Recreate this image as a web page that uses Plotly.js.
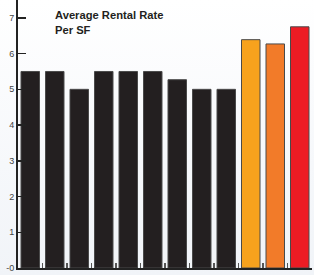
<!DOCTYPE html>
<html><head><meta charset="utf-8">
<script src="https://cdn.plot.ly/plotly-3.0.1.min.js"></script>
<style>
html,body{margin:0;padding:0;}
body{width:314px;height:275px;overflow:hidden;background:linear-gradient(to bottom,#ffffff 0%,#f6f8fb 60%,#f1f4f8 100%);}
#chart{width:314px;height:275px;}
</style></head>
<body><div id="chart"></div>
<script>
const categories = ["'00","'01","'02","'03","'04","'05","'06","'07","'08","'09","'10","'11"];
const rentalRate = [5.5, 5.5, 5.0, 5.5, 5.5, 5.5, 5.27, 5.0, 5.0, 6.39, 6.27, 6.75];
const barColors = ["#231f20","#231f20","#231f20","#231f20","#231f20","#231f20","#231f20","#231f20","#231f20","#f7a21d","#f27b29","#ed1c24"];
const yTickVals = [0,1,2,3,4,5,6,7];
const yTickText = ["-0","1","2","3","4","5","6","7"];
const chartTitle = "Average Rental Rate<br>Per SF";

Plotly.newPlot("chart", [{
  type: "bar",
  x: categories,
  y: rentalRate,
  marker: {color: barColors, line: {color: "#4a4a4a", width: 1}},
  hoverinfo: "none"
}], {
  width: 314, height: 275,
  margin: {l: 18, r: 2, t: 0, b: 7, pad: 0},
  paper_bgcolor: "rgba(0,0,0,0)",
  plot_bgcolor: "rgba(0,0,0,0)",
  bargap: 0.245,
  showlegend: false,
  font: {family: "Liberation Sans, Arial, sans-serif", color: "#333"},
  xaxis: {
    type: "category",
    showline: true, linecolor: "#222", linewidth: 2,
    ticks: "inside", tickson: "boundaries", ticklen: 5, tickcolor: "#555", tickwidth: 1.5,
    tickfont: {size: 8, color: "#555"},
    showgrid: false, zeroline: false, fixedrange: true
  },
  yaxis: {
    range: [0, 7.5],
    tickvals: yTickVals, ticktext: yTickText,
    showline: true, linecolor: "#222", linewidth: 2,
    ticks: "inside", ticklen: 8, tickcolor: "#222", tickwidth: 1.5,
    tickfont: {size: 9, color: "#444"},
    showgrid: false, zeroline: false, fixedrange: true
  },
  annotations: [{
    text: "<b>" + chartTitle + "</b>",
    xref: "paper", yref: "paper", x: 0.12, y: 0.974,
    xanchor: "left", yanchor: "top", align: "left", showarrow: false,
    font: {size: 11.2, color: "#231f20", family: "Liberation Sans, Arial, sans-serif"}
  }]
}, {staticPlot: true});
</script></body></html>
